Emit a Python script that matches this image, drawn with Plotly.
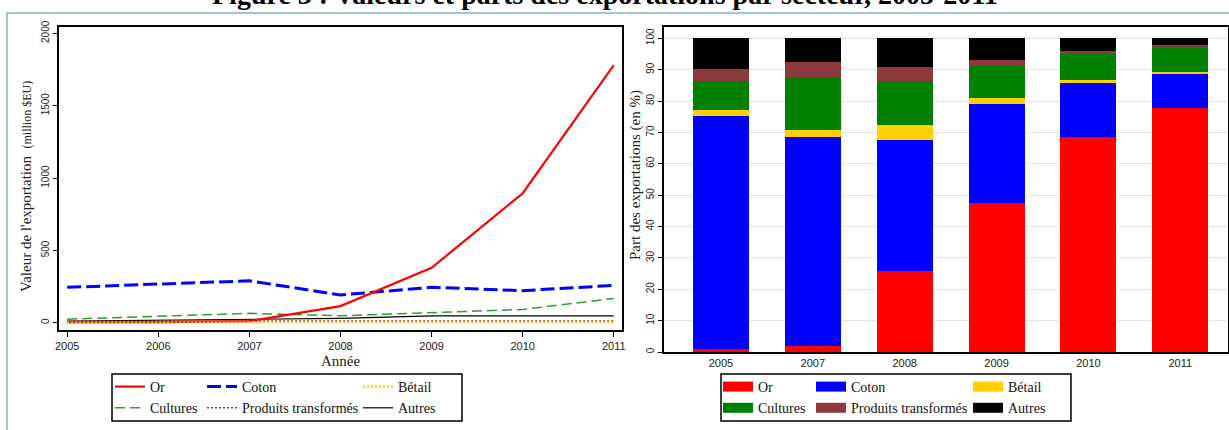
import plotly.graph_objects as go

# ---------------- data ----------------
years_line = [2005, 2006, 2007, 2008, 2009, 2010, 2011]
or_val = [5, 5, 12, 115, 380, 895, 1780]
coton_val = [245, 268, 290, 192, 245, 222, 258]
betail_val = [3, 3, 4, 4, 4, 4, 4]
cultures_val = [25, 45, 65, 48, 68, 92, 168]
pt_val = [10, 12, 12, 12, 12, 12, 12]
autres_val = [12, 18, 22, 30, 48, 48, 48]

years_bar = ["2005", "2007", "2008", "2009", "2010", "2011"]
or_pct = [1.0, 1.9, 25.8, 47.5, 68.5, 77.7]
coton_pct = [74.3, 66.6, 41.7, 31.6, 17.4, 11.2]
betail_pct = [2.0, 2.4, 4.8, 1.9, 0.8, 0.4]
cultures_pct = [9.0, 16.7, 14.0, 10.2, 8.3, 7.7]
pt_pct = [3.8, 5.0, 4.4, 1.9, 0.8, 0.8]
autres_pct = [9.9, 7.4, 9.3, 6.9, 4.2, 2.2]

names = ["Or", "Coton", "Bétail", "Cultures", "Produits transformés", "Autres"]
yticks_left = [0, 500, 1000, 1500, 2000]
yticks_right = list(range(0, 101, 10))
title_text = "Figure 3 : Valeurs et parts des exportations par secteur, 2005-2011"

W, H = 1229, 430
def px(x):
    return x / W
def py(y):
    return 1 - y / H

SERIF = "Liberation Serif"
SANS = "Liberation Sans"

fig = go.Figure()

# ---------------- left: line chart ----------------
line_styles = [
    (or_val, "#FF0000", "solid", 2.2, "legend"),
    (coton_val, "#0000FF", "14px,5px", 3, "legend2"),
    (betail_val, "#FFC000", "2px,2px", 2, "legend3"),
    (cultures_val, "#2E9E2E", "10px,5px", 1.5, "legend"),
    (pt_val, "#993333", "2px,2px", 1.5, "legend2"),
    (autres_val, "#000000", "solid", 1.2, "legend3"),
]
order = [5, 4, 3, 1, 0, 2]
for i in order:
    vals, col, dash, w, lg = line_styles[i]
    fig.add_trace(go.Scatter(
        x=years_line, y=vals, mode="lines", name=names[i],
        line=dict(color=col, dash=dash, width=w),
        xaxis="x", yaxis="y", legend=lg, legendrank=i,
    ))

# ---------------- right: stacked bars ----------------
bar_series = [or_pct, coton_pct, betail_pct, cultures_pct, pt_pct, autres_pct]
bar_colors = ["#FF0000", "#0000FF", "#FFD000", "#008000", "#8E3A3C", "#000000"]
bar_legends = ["legend4", "legend5", "legend6", "legend4", "legend5", "legend6"]
for i, vals in enumerate(bar_series):
    fig.add_trace(go.Bar(
        x=years_bar, y=vals, name=names[i], marker=dict(color=bar_colors[i], line=dict(width=0)),
        width=0.61, xaxis="x2", yaxis="y2", showlegend=False,
    ))
# legend-only entries (wide rectangle keys)
for i in range(6):
    fig.add_trace(go.Scatter(
        x=[None], y=[None], mode="lines", name=names[i],
        line=dict(color=bar_colors[i], width=10),
        xaxis="x2", yaxis="y2", legend=bar_legends[i], legendrank=i,
    ))

axis_common = dict(showline=True, linecolor="black", linewidth=1.5, mirror=True,
                   tickcolor="black", zeroline=False)

leg_common = dict(orientation="v", bgcolor="rgba(0,0,0,0)", borderwidth=0,
                  font=dict(family=SERIF, size=14, color="#111"), itemwidth=30,
                  tracegroupgap=0, xanchor="left", yanchor="top", traceorder="normal")

fig.update_layout(
    width=W, height=H,
    margin=dict(l=0, r=0, t=0, b=0, autoexpand=False),
    paper_bgcolor="white", plot_bgcolor="white",
    barmode="stack",
    xaxis=dict(domain=[px(59), px(622)], range=[2004.91, 2011.09], tickvals=years_line,
               showgrid=False, ticks="outside", ticklen=5,
               tickfont=dict(family=SANS, size=11, color="#222"),
               anchor="y", **axis_common),
    yaxis=dict(domain=[py(330), py(27)], range=[-50, 2044], tickvals=yticks_left,
               tickangle=-90, showgrid=False, ticks="outside", ticklen=4,
               tickfont=dict(family=SANS, size=10, color="#222"), anchor="x", **axis_common),
    xaxis2=dict(domain=[px(664), px(1228)], type="category", range=[-0.62, 5.52],
                showgrid=False, ticks="", tickfont=dict(family=SANS, size=11, color="#222"),
                anchor="y2", **axis_common),
    yaxis2=dict(domain=[py(352), py(27)], range=[0, 103.6], tickvals=yticks_right,
                tickangle=-90, showgrid=True, gridcolor="#E3E3E3", gridwidth=1,
                ticks="outside", ticklen=4,
                tickfont=dict(family=SANS, size=10, color="#222"), anchor="x2", **axis_common),
    legend=dict(x=px(110), y=py(371), **leg_common),
    legend2=dict(x=px(202), y=py(371), **leg_common),
    legend3=dict(x=px(358), y=py(371), **leg_common),
    legend4=dict(x=px(718), y=py(371), **leg_common),
    legend5=dict(x=px(811), y=py(371), **leg_common),
    legend6=dict(x=px(968), y=py(371), **leg_common),
)

shapes = [
    # light blue page frame
    dict(type="rect", xref="paper", yref="paper", x0=px(7), y0=py(440), x1=px(1240), y1=py(13),
         line=dict(color="#9DC3E6", width=2), fillcolor="rgba(0,0,0,0)", layer="below"),
    # legend boxes
    dict(type="rect", xref="paper", yref="paper", x0=px(112), y0=py(421), x1=px(462), y1=py(374),
         line=dict(color="black", width=1.5)),
    dict(type="rect", xref="paper", yref="paper", x0=px(721), y0=py(421), x1=px(1071), y1=py(374),
         line=dict(color="black", width=1.5)),
]
fig.update_layout(shapes=shapes)

annotations = [
    dict(text="<b>" + title_text + "</b>", x=px(605), y=py(-5), xref="paper", yref="paper",
         showarrow=False, xanchor="center", yanchor="middle",
         font=dict(family=SERIF, size=28, color="black")),
    dict(text="Valeur de l'exportation  <span style='font-size:12px'>(million $EU)</span>",
         x=px(26), y=py(187), xref="paper", yref="paper", textangle=-90, showarrow=False,
         xanchor="center", yanchor="middle",
         font=dict(family=SERIF, size=15, color="#222")),
    dict(text="Année", x=px(340), y=py(361), xref="paper", yref="paper", showarrow=False,
         xanchor="center", yanchor="middle",
         font=dict(family=SERIF, size=15, color="#222")),
    dict(text="Part des exportations (en %)", x=px(635), y=py(175), xref="paper", yref="paper",
         textangle=-90, showarrow=False, xanchor="center", yanchor="middle",
         font=dict(family=SERIF, size=15, color="#222")),
]
fig.update_layout(annotations=annotations)

fig.write_html("out.html", config={"displayModeBar": False},
               post_script="document.body.style.margin='0';document.body.style.padding='0';")
